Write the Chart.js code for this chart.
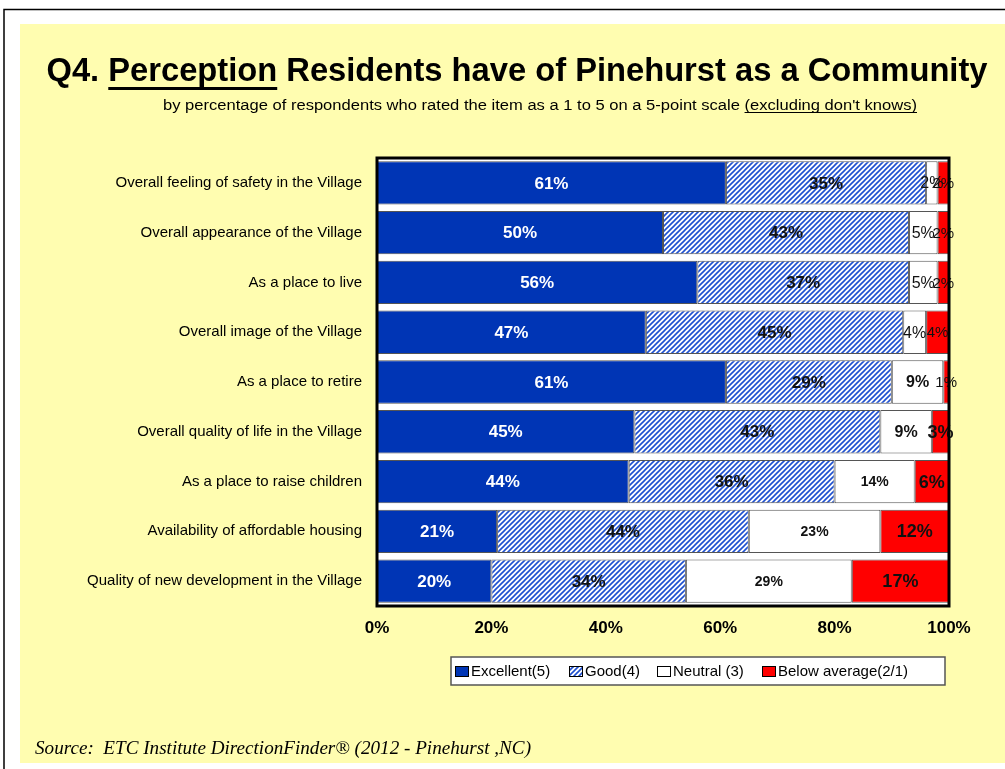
<!DOCTYPE html>
<html>
<head>
<meta charset="utf-8">
<style>
  html, body { margin: 0; padding: 0; background: #ffffff; }
  #chart { display: block; }
</style>
<script src="https://cdn.jsdelivr.net/npm/chart.js@4.4.1/dist/chart.umd.min.js"></script>
</head>
<body>
<canvas id="chart" width="1005" height="769"></canvas>
<script>
const categories = [
  'Overall feeling of safety in the Village',
  'Overall appearance of the Village',
  'As a place to live',
  'Overall image of the Village',
  'As a place to retire',
  'Overall quality of life in the Village',
  'As a place to raise children',
  'Availability of affordable housing',
  'Quality of new development in the Village'
];
const excellent = [61, 50, 56, 47, 61, 45, 44, 21, 20];
const good      = [35, 43, 37, 45, 29, 43, 36, 44, 34];
const neutral   = [2, 5, 5, 4, 9, 9, 14, 23, 29];
const below     = [2, 2, 2, 4, 1, 3, 6, 12, 17];
const seriesNames = ['Excellent(5)', 'Good(4)', 'Neutral (3)', 'Below average(2/1)'];
const tickValues = [0, 20, 40, 60, 80, 100];

const FONT = '"Liberation Sans", Arial, sans-serif';
const BLUE = '#0035B5';

// blue diagonal hatch for "Good"
function makeHatch() {
  const c = document.createElement('canvas');
  c.width = 5; c.height = 5;
  const g = c.getContext('2d');
  g.fillStyle = '#ffffff';
  g.fillRect(0, 0, 5, 5);
  g.strokeStyle = '#1E50D0';
  g.lineWidth = 1.6;
  g.beginPath();
  g.moveTo(-1, 6); g.lineTo(6, -1);
  g.moveTo(-1, 1); g.lineTo(1, -1);
  g.moveTo(4, 6); g.lineTo(6, 4);
  g.stroke();
  return g.createPattern(c, 'repeat');
}
const hatch = makeHatch();

// draw text stretched/squeezed to a given width, returns the x scale used
function drawToWidth(ctx, text, cx, y, targetW) {
  const w = ctx.measureText(text).width;
  const s = targetW / w;
  ctx.save();
  ctx.translate(cx - targetW / 2, y);
  ctx.scale(s, 1);
  ctx.fillText(text, 0, 0);
  ctx.restore();
  return s;
}

const pageDeco = {
  id: 'pageDeco',
  beforeDraw(chart) {
    const ctx = chart.ctx;
    ctx.save();
    ctx.fillStyle = '#ffffff';
    ctx.fillRect(0, 0, chart.width, chart.height);
    ctx.strokeStyle = '#000';
    ctx.lineWidth = 1.5;
    ctx.beginPath();
    ctx.moveTo(4, 769); ctx.lineTo(4, 9.5); ctx.lineTo(1005, 9.5);
    ctx.stroke();
    ctx.fillStyle = '#FFFDB0';
    ctx.fillRect(20, 24, 985, 739);

    // plot background
    const a = chart.chartArea;
    ctx.fillStyle = '#ffffff';
    ctx.fillRect(a.left, a.top, a.right - a.left, a.bottom - a.top);

    // title
    ctx.fillStyle = '#000';
    ctx.textBaseline = 'alphabetic';
    ctx.textAlign = 'left';
    ctx.font = 'bold 34px ' + FONT;
    const parts = ['Q4. ', 'Perception', ' Residents have of Pinehurst as a Community'];
    const full = parts.join('');
    const s = drawToWidth(ctx, full, 517, 81, 941);
    const u0 = ctx.measureText(parts[0]).width * s;
    const u1 = ctx.measureText(parts[1]).width * s;
    ctx.fillRect(517 - 941 / 2 + u0, 87, u1, 3);

    // subtitle
    ctx.font = '14px ' + FONT;
    const p1 = 'by percentage of respondents who rated the item as a 1 to 5 on a 5-point scale ';
    const p2 = '(excluding don\'t knows)';
    const ss = drawToWidth(ctx, p1 + p2, 540, 110, 754);
    const w1 = ctx.measureText(p1).width * ss;
    const w2 = ctx.measureText(p2).width * ss;
    ctx.fillRect(540 - 754 / 2 + w1, 112, w2, 1);

    // source
    ctx.font = 'italic 19px "Liberation Serif", "Times New Roman", serif';
    drawToWidth(ctx, 'Source:  ETC Institute DirectionFinder\u00AE (2012 - Pinehurst ,NC)', 35 + 248, 754, 496);
    ctx.restore();
  },
  afterDatasetsDraw(chart) {
    const ctx = chart.ctx;
    const a = chart.chartArea;
    ctx.save();
    // value labels
    ctx.textAlign = 'center';
    ctx.textBaseline = 'middle';
    chart.data.datasets.forEach((ds, di) => {
      const meta = chart.getDatasetMeta(di);
      meta.data.forEach((el, i) => {
        const v = ds.data[i];
        const p = el.getProps(['x', 'base', 'y'], true);
        const cx = (p.x + p.base) / 2;
        let font = 'bold 17px ' + FONT, color = '#111';
        if (di === 0) color = '#ffffff';
        if (di === 2) {
          if (v <= 5) font = '16px ' + FONT;
          else if (v < 10) font = 'bold 16px ' + FONT;
          else font = 'bold 14px ' + FONT;
        }
        if (di === 3) {
          font = i < 5 ? '15px ' + FONT : 'bold 18px ' + FONT;
        }
        ctx.font = font;
        ctx.fillStyle = color;
        ctx.fillText(v + '%', cx, p.y + 1);
      });
    });
    // plot frame
    ctx.strokeStyle = '#000';
    ctx.lineWidth = 3;
    ctx.strokeRect(a.left, a.top, a.right - a.left, a.bottom - a.top);

    // legend
    const lx = 451, ly = 657, lw = 494, lh = 28;
    ctx.fillStyle = '#ffffff';
    ctx.fillRect(lx, ly, lw, lh);
    ctx.strokeStyle = '#555';
    ctx.lineWidth = 1.5;
    ctx.strokeRect(lx, ly, lw, lh);
    ctx.font = '15px ' + FONT;
    ctx.textAlign = 'left';
    ctx.textBaseline = 'middle';
    const starts = [455, 569, 657, 762];
    chart.data.datasets.forEach((ds, di) => {
      const sx = starts[di];
      ctx.fillStyle = ds.backgroundColor;
      ctx.fillRect(sx, ly + 9, 14, 11);
      ctx.strokeStyle = '#000';
      ctx.lineWidth = 1;
      ctx.strokeRect(sx + 0.5, ly + 9.5, 13, 10);
      ctx.fillStyle = '#000';
      ctx.fillText(ds.label, sx + 16, ly + 15);
    });
    ctx.restore();
  }
};

const mk = (label, data, bg) => ({
  label, data,
  backgroundColor: bg,
  borderColor: '#555',
  borderWidth: 1,
  borderSkipped: false
});

new Chart(document.getElementById('chart'), {
  type: 'bar',
  data: {
    labels: categories,
    datasets: [
      mk(seriesNames[0], excellent, BLUE),
      mk(seriesNames[1], good, hatch),
      mk(seriesNames[2], neutral, '#ffffff'),
      mk(seriesNames[3], below, '#FF0000')
    ]
  },
  options: {
    indexAxis: 'y',
    responsive: false,
    animation: false,
    categoryPercentage: 0.87,
    barPercentage: 1,
    layout: { padding: { left: 20, right: 56, top: 158, bottom: 123 } },
    plugins: {
      legend: { display: false },
      tooltip: { enabled: false }
    },
    scales: {
      x: {
        stacked: true,
        min: 0,
        max: 100,
        afterBuildTicks: (s) => { s.ticks = tickValues.map(v => ({ value: v })); },
        afterFit: (s) => { s.height = 40; },
        grid: { display: false, drawTicks: false },
        border: { display: false },
        ticks: {
          padding: 12,
          color: '#000',
          font: { family: FONT, size: 17, weight: 'bold' },
          callback: (v) => v + '%'
        }
      },
      y: {
        stacked: true,
        afterFit: (s) => { s.width = 357; },
        grid: { display: false, drawTicks: false },
        border: { display: false },
        ticks: {
          padding: 15,
          color: '#000',
          font: { family: FONT, size: 15 }
        }
      }
    }
  },
  plugins: [pageDeco]
});
</script>
</body>
</html>
